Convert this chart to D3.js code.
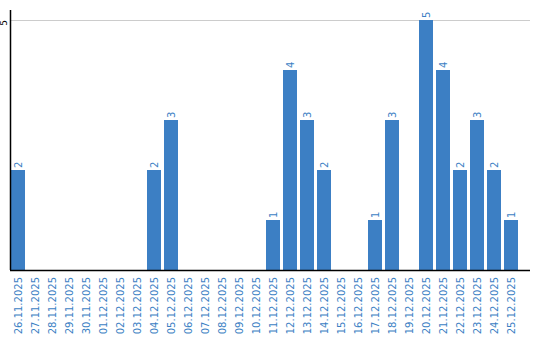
<!DOCTYPE html>
<html>
<head>
<meta charset="utf-8">
<script src="https://cdn.jsdelivr.net/npm/d3@7"></script>
<style>
body { margin: 0; background: #fff; }
text { font-family: "DejaVu Sans", sans-serif; }
</style>
</head>
<body>
<div id="chart"></div>
<script>
var dates = ["26.11.2025", "27.11.2025", "28.11.2025", "29.11.2025", "30.11.2025",
    "01.12.2025", "02.12.2025", "03.12.2025", "04.12.2025", "05.12.2025",
    "06.12.2025", "07.12.2025", "08.12.2025", "09.12.2025", "10.12.2025",
    "11.12.2025", "12.12.2025", "13.12.2025", "14.12.2025", "15.12.2025",
    "16.12.2025", "17.12.2025", "18.12.2025", "19.12.2025", "20.12.2025",
    "21.12.2025", "22.12.2025", "23.12.2025", "24.12.2025", "25.12.2025"];
var counts = [2, 0, 0, 0, 0, 0, 0, 0, 2, 3,
    0, 0, 0, 0, 0, 1, 4, 3, 2, 0,
    0, 1, 3, 0, 5, 4, 2, 3, 2, 1];
var yTicks = [5];

var blue = "#3c7fc4";

var svg = d3.select("#chart").append("svg")
    .attr("width", 540)
    .attr("height", 340);

var x = d3.scaleBand().domain(dates).range([10, 520]);
var y = d3.scaleLinear().domain([0, 5]).range([270, 20]);

var data = dates.map(function(d, i) { return {date: d, value: counts[i]}; });

// grid
svg.selectAll(".grid")
    .data(yTicks)
    .enter().append("line")
    .attr("x1", 11).attr("x2", 530)
    .attr("y1", function(d) { return y(d) + 0.5; })
    .attr("y2", function(d) { return y(d) + 0.5; })
    .attr("stroke", "#cccccc");

// bars
svg.selectAll(".bar")
    .data(data.filter(function(d) { return d.value > 0; }))
    .enter().append("rect")
    .attr("x", function(d) { return x(d.date) + 1; })
    .attr("y", function(d) { return y(d.value); })
    .attr("width", x.step() - 3)
    .attr("height", function(d) { return y(0) - y(d.value); })
    .attr("fill", blue);

// value labels
svg.selectAll(".val")
    .data(data.filter(function(d) { return d.value > 0; }))
    .enter().append("text")
    .attr("transform", function(d) {
        return "translate(" + (x(d.date) + 1 + (x.step() - 3) / 2 + 4) + "," + (y(d.value) - 2) + ")rotate(-90)";
    })
    .attr("fill", blue)
    .style("font-size", "10px")
    .text(function(d) { return d.value; });

// axes lines
svg.append("line")
    .attr("x1", 10.5).attr("x2", 10.5).attr("y1", 10).attr("y2", 270)
    .attr("stroke", "#000").attr("stroke-width", 1.5);
svg.append("line")
    .attr("x1", 10).attr("x2", 530).attr("y1", 270.5).attr("y2", 270.5)
    .attr("stroke", "#000").attr("stroke-width", 1.5);

// y tick labels
svg.selectAll(".ylab")
    .data(yTicks)
    .enter().append("text")
    .attr("transform", function(d) { return "translate(7," + (y(d) + 3) + ")rotate(-90)"; })
    .attr("text-anchor", "middle")
    .attr("fill", "#000")
    .style("font-size", "9px")
    .text(function(d) { return d; });

// x labels
svg.selectAll(".xlab")
    .data(dates)
    .enter().append("text")
    .attr("transform", function(d) {
        return "translate(" + (x(d) + 1 + (x.step() - 3) / 2 + 4) + ",277)rotate(-90)";
    })
    .attr("text-anchor", "end")
    .attr("fill", blue)
    .style("font-size", "10px")
    .text(function(d) { return d; });
</script>
</body>
</html>
